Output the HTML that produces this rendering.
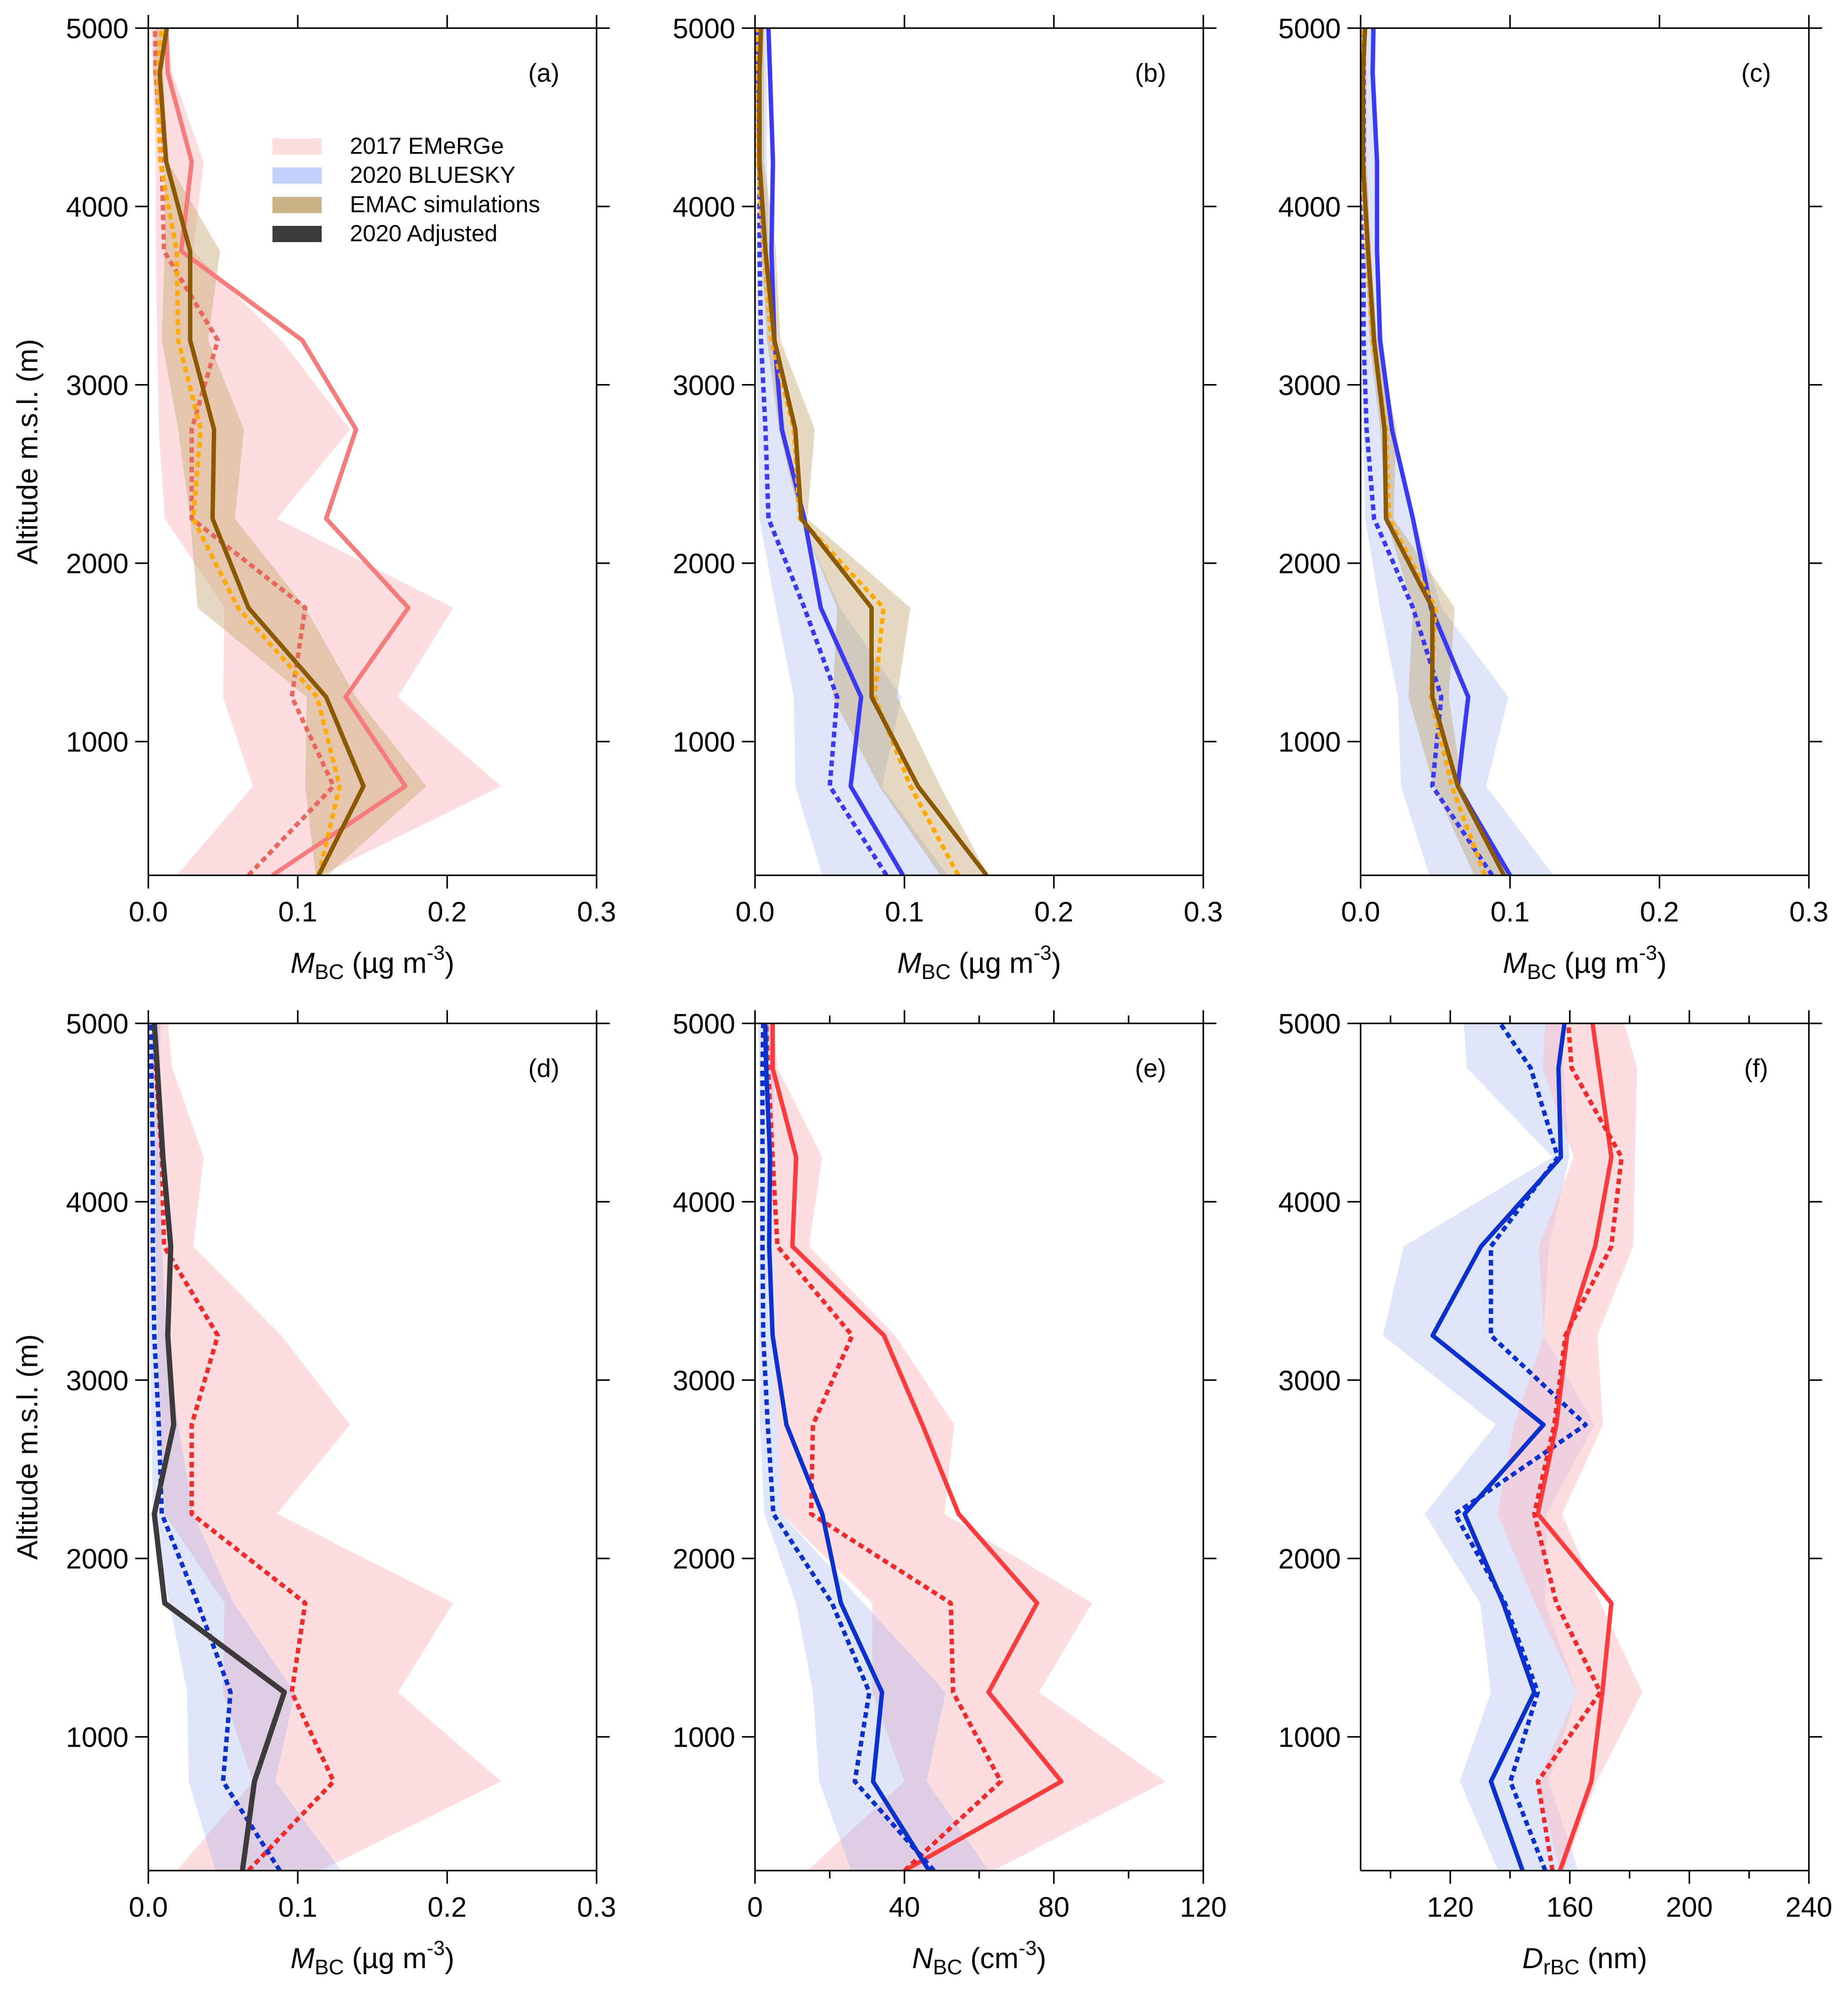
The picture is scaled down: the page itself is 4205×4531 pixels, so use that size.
<!DOCTYPE html>
<html><head><meta charset="utf-8">
<style>
html,body{margin:0;padding:0;background:#fff;}
svg{display:block;font-family:"Liberation Sans",Arial,sans-serif;}
</style></head>
<body>
<svg id="chart" xmlns="http://www.w3.org/2000/svg" width="4205" height="4531" viewBox="0 0 4205 4531">
<rect x="0" y="0" width="4205" height="4531" fill="#fff"/>
</svg>
<script>
// ---- data (altitude levels, bottom to top) ----
const altitudes = [250,750,1250,1750,2250,2750,3250,3750,4250,4750,5000];
const altTicks = [1000,2000,3000,4000,5000];
const massTicks = [0.0,0.1,0.2,0.3];
const massTickLabels = ["0.0","0.1","0.2","0.3"];
const numTicks = [0,40,80,120];
const numMinorTicks = [20,60,100];
const sizeTicks = [120,160,200,240];
const sizeMinorTicks = [100,140,180,220];

// EMeRGe 2017 mass (panels a, d)
const emergeMassMean  = [0.083,0.172,0.132,0.174,0.119,0.139,0.103,0.022,0.029,0.013,0.012];
const emergeMassMed   = [0.067,0.124,0.096,0.105,0.029,0.029,0.0465,0.0105,0.009,0.005,0.0045];
const emergeMassLo    = [0.019,0.07,0.05,0.051,0.011,0.007,0.006,0.005,0.005,0.003,0.002];
const emergeMassHi    = [0.115,0.236,0.167,0.204,0.086,0.135,0.089,0.03,0.037,0.016,0.013];
// EMAC for 2017 (panel a)
const emacAMean = [0.114,0.144,0.119,0.067,0.043,0.044,0.028,0.028,0.012,0.0076,0.0124];
const emacAMed  = [0.114,0.128,0.113,0.06,0.03,0.035,0.02,0.019,0.008,0.006,0.009];
const emacALo   = [0.112,0.105,0.106,0.033,0.028,0.02,0.009,0.011,0.011,0.003,0.005];
const emacAHi   = [0.12,0.186,0.139,0.105,0.058,0.064,0.04,0.048,0.013,0.01,0.012];
// BLUESKY 2020 mass (panels b, d)
const blueMassMean = [0.099,0.064,0.071,0.044,0.033,0.018,0.013,0.011,0.012,0.01,0.009];
const blueMassMed  = [0.088,0.05,0.055,0.033,0.009,0.007,0.004,0.003,0.003,0.002,0.002];
const blueMassLo   = [0.045,0.027,0.026,0.014,0.003,0.002,0.001,0.001,0.001,0.001,0.0];
const blueMassHi   = [0.129,0.085,0.098,0.057,0.03,0.02,0.012,0.009,0.008,0.008,0.008];
// EMAC for 2020 (panel b)
const emacBMean = [0.155,0.109,0.078,0.078,0.031,0.027,0.013,0.007,0.003,0.003,0.004];
const emacBMed  = [0.136,0.104,0.08,0.086,0.03,0.026,0.011,0.006,0.002,0.002,0.002];
const emacBLo   = [0.124,0.083,0.052,0.055,0.03,0.016,0.008,0.004,0.001,0.001,0.001];
const emacBHi   = [0.156,0.124,0.095,0.104,0.035,0.04,0.017,0.014,0.006,0.006,0.006];
// Panel c
const blueCMean = [0.1,0.065,0.072,0.047,0.035,0.021,0.013,0.011,0.011,0.008,0.0086];
const blueCMed  = [0.088,0.048,0.054,0.035,0.009,0.004,0.002,0.002,0.002,0.002,0.002];
const blueCLo   = [0.046,0.027,0.025,0.013,0.003,0.002,0.001,0.001,0.001,0.001,0.0];
const blueCHi   = [0.129,0.084,0.099,0.054,0.036,0.022,0.015,0.012,0.012,0.01,0.01];
const emacCMean = [0.096,0.065,0.048,0.048,0.017,0.016,0.009,0.005,0.0015,0.0015,0.003];
const emacCMed  = [0.083,0.061,0.047,0.05,0.019,0.017,0.008,0.004,0.001,0.001,0.002];
const emacCLo   = [0.076,0.049,0.032,0.035,0.017,0.013,0.006,0.003,0.001,0.001,0.001];
const emacCHi   = [0.097,0.068,0.059,0.063,0.022,0.024,0.011,0.007,0.004,0.004,0.004];
// Panel d adjusted
const adjustedMass = [0.063,0.071,0.091,0.011,0.004,0.017,0.013,0.015,0.0098,0.006,0.004];
// Panel e number concentration
const emergeNumMean = [40,82,62.5,75.5,54.5,44.8,34.5,10,11,4.7,4.7];
const emergeNumMed  = [40,65.8,53,52.4,15,15.5,26,6,4.7,3.5,3];
const emergeNumLo   = [14,40,31.4,31.4,7,6,5,5,4.5,4,3];
const emergeNumHi   = [63.8,109.8,76,90.2,50.7,53.3,37.5,14.4,18,6,5];
const blueNumMean = [46.6,31.6,34,23,18,8.4,4.7,3.8,4,3,2.7];
const blueNumMed  = [47.9,26.7,30.6,20.6,4.9,3.4,2.2,2,2,2,2.2];
const blueNumLo   = [25.7,17.2,15.5,11,2.5,1.3,1.2,1.2,1.2,1.2,0.8];
const blueNumHi   = [62.5,46,51,29,7,6,5,5,5,5,4];
// Panel f size
const emergeSizeMean = [156.7,167.2,170.9,173.9,149.3,155.5,159.1,168.5,173.9,169.7,167.6];
const emergeSizeMed  = [154.2,149.3,170.2,155.5,148.1,154.8,158.5,173.9,177.3,160.6,159.5];
const emergeSizeLo   = [156.7,149.3,162.5,148.3,135.8,141.3,151.4,149.6,161.3,150.9,151.8];
const emergeSizeHi   = [157.9,169,184.3,170.2,157.4,171.1,169.2,181.2,181.8,182.5,178.2];
const blueSizeMean = [144.2,133.6,148.1,137.7,124.8,151.2,114.1,130.3,157,156.2,158.2];
const blueSizeMed  = [151.8,140.1,149.3,138.3,121.6,165.3,133.6,133.6,156,146.9,136.7];
const blueSizeLo   = [136,123.2,133.6,130,111.4,135.2,97.5,104.4,154.2,125.6,124.5];
const blueSizeHi   = [162.8,153,162.5,151.8,152.4,168.3,151.2,153,159.8,158,157.3];

// ---- layout ----
const NS = "http://www.w3.org/2000/svg";
const svg = document.getElementById("chart");
const PW = 1020;
const ROW = [{top:64,bot:1992},{top:2329,bot:4257}];
const COLX = [337.5,1718,3096];
const ALT_MIN = 250, ALT_MAX = 5000;

const C = {
  pink:"rgba(252,190,193,0.5)", blue:"rgba(150,170,240,0.3)", tan:"rgba(190,160,100,0.4)",
  redSoft:"#f77b7b", redDotSoft:"#e8695b", red:"#ff3b3b", redDot:"#f42a2a",
  blueB:"#3a3af5", blueD:"#0a30d0", brown:"#8b5a00", orange:"#ffaa00", black:"#3c3a3a"
};

function el(tag, attrs, parent){
  const e = document.createElementNS(NS, tag);
  for (const k in attrs) e.setAttribute(k, attrs[k]);
  (parent||svg).appendChild(e);
  return e;
}

function makePanel(id, col, row, xmin, xmax){
  const x0 = COLX[col], y0 = ROW[row].top, y1 = ROW[row].bot;
  const g = el("g", {});
  
  
  const clipId = "clip-" + id;
  const cp = el("clipPath", {id: clipId}, g);
  el("rect", {x:x0, y:y0, width:PW, height:y1-y0}, cp);
  const plot = el("g", {"clip-path":"url(#"+clipId+")"}, g);
  
  
  return {
    id, g, plot, x0, y0, y1,
    sx: v => x0 + (v - xmin) / (xmax - xmin) * PW,
    sy: a => y1 - (a - ALT_MIN) / (ALT_MAX - ALT_MIN) * (y1 - y0)
  };
}

function band(p, lo, hi, fill, name){
  let d = "";
  altitudes.forEach((a,i)=>{ d += (i?"L":"M") + p.sx(lo[i]).toFixed(1) + "," + p.sy(a).toFixed(1); });
  for (let i = altitudes.length-1; i >= 0; i--) d += "L" + p.sx(hi[i]).toFixed(1) + "," + p.sy(altitudes[i]).toFixed(1);
  d += "Z";
  const e = el("path", {d, fill, stroke:"none"}, p.plot);
  
  
}

function line(p, vals, color, dotted, name, w){
  let d = "";
  altitudes.forEach((a,i)=>{ d += (i?"L":"M") + p.sx(vals[i]).toFixed(1) + "," + p.sy(a).toFixed(1); });
  const attrs = {d, fill:"none", stroke:color, "stroke-width": w||10, "stroke-linejoin":"round"};
  if (dotted) attrs["stroke-dasharray"] = "13 9";
  const e = el("path", attrs, p.plot);
  
  
}

function axes(p, ticks, labels, minor, titleParts, letter, yTitle){
  const g = p.g, x0 = p.x0, x1 = p.x0 + PW, y0 = p.y0, y1 = p.y1;
  const frame = el("g", {stroke:"#000", "stroke-width":3.5, fill:"none"}, g);
  
  
  el("line", {x1:x0, y1:y0, x2:x1, y2:y0}, frame);
  el("line", {x1:x0, y1:y1, x2:x1, y2:y1}, frame);
  el("line", {x1:x0, y1:y0, x2:x0, y2:y1}, frame);
  el("line", {x1:x1, y1:y0, x2:x1, y2:y1}, frame);
  ticks.forEach((t,i)=>{
    const x = p.sx(t);
    el("line", {x1:x, y1:y1, x2:x, y2:y1+30}, frame);
    el("line", {x1:x, y1:y0, x2:x, y2:y0-30}, frame);
    const tx = el("text", {x:x, y:y1+105, "font-size":64, "text-anchor":"middle", fill:"#000"}, g);
    tx.textContent = labels[i];
    
    
  });
  minor.forEach(t=>{
    const x = p.sx(t);
    el("line", {x1:x, y1:y1, x2:x, y2:y1+18}, frame);
    el("line", {x1:x, y1:y0, x2:x, y2:y0-18}, frame);
  });
  altTicks.forEach(a=>{
    const y = p.sy(a);
    el("line", {x1:x0-30, y1:y, x2:x0, y2:y}, frame);
    el("line", {x1:x1, y1:y, x2:x1+30, y2:y}, frame);
    const ty = el("text", {x:x0-45, y:y+23, "font-size":64, "text-anchor":"end", fill:"#000"}, g);
    ty.textContent = String(a);
    
    
  });
  const t = el("text", {x:x0+PW/2, y:y1+222, "font-size":66, "text-anchor":"middle", fill:"#000"}, g);
  
  
  titleParts.forEach(pt=>{
    const s = el("tspan", pt.attrs || {}, t);
    s.textContent = pt.text;
  });
  const l = el("text", {x:x0+PW-120, y:y0+122, "font-size":58, "text-anchor":"middle", fill:"#000"}, g);
  l.textContent = "(" + letter + ")";
  
  
  if (yTitle){
    const cy = (y0 + y1) / 2;
    const yt = el("text", {x:85, y:cy, "font-size":66, "text-anchor":"middle", fill:"#000", transform:"rotate(-90 85 "+cy+")"}, g);
    yt.textContent = "Altitude m.s.l. (m)";
    
    
  }
}

const massTitle = [
  {text:"M", attrs:{"font-style":"italic"}},
  {text:"BC", attrs:{"font-size":48, dy:14}},
  {text:" (µg m", attrs:{dy:-14}},
  {text:"-3", attrs:{"font-size":46, dy:-30}},
  {text:")", attrs:{dy:30}}
];
const numTitle = [
  {text:"N", attrs:{"font-style":"italic"}},
  {text:"BC", attrs:{"font-size":48, dy:14}},
  {text:" (cm", attrs:{dy:-14}},
  {text:"-3", attrs:{"font-size":46, dy:-30}},
  {text:")", attrs:{dy:30}}
];
const sizeTitle = [
  {text:"D", attrs:{"font-style":"italic"}},
  {text:"rBC", attrs:{"font-size":48, dy:14}},
  {text:" (nm)", attrs:{dy:-14}}
];

// Panel a
const pa = makePanel("a",0,0,0,0.3);
band(pa, emergeMassLo, emergeMassHi, C.pink, "emerge-range-band");
band(pa, emacALo, emacAHi, C.tan, "emac-range-band");
line(pa, emergeMassMean, C.redSoft, false, "emerge-mean-line");
line(pa, emergeMassMed, C.redDotSoft, true, "emerge-median-line");
line(pa, emacAMed, C.orange, true, "emac-median-line");
line(pa, emacAMean, C.brown, false, "emac-mean-line");
axes(pa, massTicks, massTickLabels, [], massTitle, "a", true);

// legend in panel a
const legend = el("g", {});


const legItems = [["2017 EMeRGe","#fddedf",315],["2020 BLUESKY","#c0cffb",381],["EMAC simulations","#ccb383",448],["2020 Adjusted","#3d3a3a",514]];
legItems.forEach(it=>{
  const r = el("rect", {x:620, y:it[2], width:112, height:37, fill:it[1]}, legend);
  
  
  const tx = el("text", {x:796, y:it[2]+35, "font-size":53, fill:"#000"}, legend);
  tx.textContent = it[0];
  
  
});

// Panel b
const pb = makePanel("b",1,0,0,0.3);
band(pb, blueMassLo, blueMassHi, C.blue, "bluesky-range-band");
band(pb, emacBLo, emacBHi, C.tan, "emac-range-band");
line(pb, blueMassMean, C.blueB, false, "bluesky-mean-line");
line(pb, blueMassMed, C.blueB, true, "bluesky-median-line");
line(pb, emacBMed, C.orange, true, "emac-median-line");
line(pb, emacBMean, C.brown, false, "emac-mean-line");
axes(pb, massTicks, massTickLabels, [], massTitle, "b", false);

// Panel c
const pc = makePanel("c",2,0,0,0.3);
band(pc, blueCLo, blueCHi, C.blue, "bluesky-range-band");
band(pc, emacCLo, emacCHi, C.tan, "emac-range-band");
line(pc, blueCMean, C.blueB, false, "bluesky-mean-line");
line(pc, blueCMed, C.blueB, true, "bluesky-median-line");
line(pc, emacCMed, C.orange, true, "emac-median-line");
line(pc, emacCMean, C.brown, false, "emac-mean-line");
axes(pc, massTicks, massTickLabels, [], massTitle, "c", false);

// Panel d
const pd = makePanel("d",0,1,0,0.3);
band(pd, emergeMassLo, emergeMassHi, C.pink, "emerge-range-band");
band(pd, blueMassLo, blueMassHi, C.blue, "bluesky-range-band");
line(pd, emergeMassMed, C.redDot, true, "emerge-median-line");
line(pd, blueMassMed, C.blueD, true, "bluesky-median-line");
line(pd, adjustedMass, C.black, false, "adjusted-line", 12);
axes(pd, massTicks, massTickLabels, [], massTitle, "d", true);

// Panel e
const pe = makePanel("e",1,1,0,120);
band(pe, emergeNumLo, emergeNumHi, C.pink, "emerge-range-band");
band(pe, blueNumLo, blueNumHi, C.blue, "bluesky-range-band");
line(pe, emergeNumMean, C.red, false, "emerge-mean-line");
line(pe, emergeNumMed, C.redDot, true, "emerge-median-line");
line(pe, blueNumMean, C.blueD, false, "bluesky-mean-line");
line(pe, blueNumMed, C.blueD, true, "bluesky-median-line");
axes(pe, numTicks, numTicks.map(String), numMinorTicks, numTitle, "e", false);

// Panel f
const pf = makePanel("f",2,1,90,240);
band(pf, blueSizeLo, blueSizeHi, C.blue, "bluesky-range-band");
band(pf, emergeSizeLo, emergeSizeHi, C.pink, "emerge-range-band");
line(pf, blueSizeMean, C.blueD, false, "bluesky-mean-line");
line(pf, blueSizeMed, C.blueD, true, "bluesky-median-line");
line(pf, emergeSizeMean, C.red, false, "emerge-mean-line");
line(pf, emergeSizeMed, C.redDot, true, "emerge-median-line");
axes(pf, sizeTicks, sizeTicks.map(String), sizeMinorTicks, sizeTitle, "f", false);
</script>
</body></html>
